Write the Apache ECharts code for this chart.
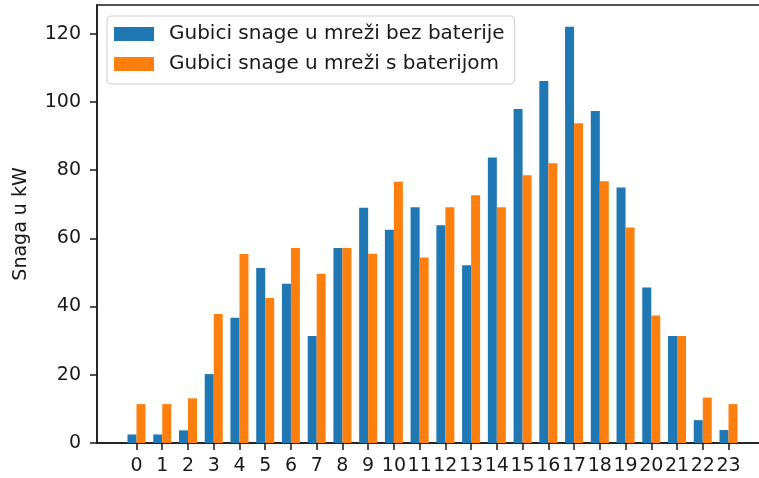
<!DOCTYPE html>
<html>
<head>
<meta charset="utf-8">
<script src="https://cdn.jsdelivr.net/npm/echarts@6/dist/echarts.min.js"></script>
<style>
  html, body { margin: 0; padding: 0; background: #fff; }
  #main { width: 759px; height: 478px; }
</style>
</head>
<body>
<div id="main"></div>
<script>
// sati u danu
const hours = [0, 1, 2, 3, 4, 5, 6, 7, 8, 9, 10, 11, 12, 13, 14, 15, 16, 17, 18, 19, 20, 21, 22, 23];
// gubici bez baterije (kW)
const lossNoBattery = [2.5, 2.5, 3.7, 20.2, 36.7, 51.3, 46.7, 31.4, 57.2, 69.0, 62.5, 69.1,
  63.8, 52.1, 83.7, 97.9, 106.1, 122.0, 97.3, 74.9, 45.6, 31.4, 6.7, 3.8];
// gubici s baterijom (kW)
const lossWithBattery = [11.4, 11.4, 13.1, 37.8, 55.4, 42.5, 57.2, 49.6, 57.2, 55.5, 76.6, 54.4,
  69.1, 72.6, 69.1, 78.5, 82.0, 93.7, 76.7, 63.2, 37.4, 31.4, 13.3, 11.4];
const yTicks = [0, 20, 40, 60, 80, 100, 120];

const seriesNames = ['Gubici snage u mreži bez baterije', 'Gubici snage u mreži s baterijom'];
const font = 'DejaVu Sans';
const ink = '#1a1a1a';

const myChart = echarts.init(document.getElementById('main'));

const option = {
  animation: false,
  textStyle: { fontFamily: font },
  grid: {
    left: 97, top: 5, width: 671, bottom: 35,
    outerBoundsMode: 'none', // v6 inace smanji grid
    containLabel: false,
    show: true, borderColor: ink, borderWidth: 1.5, backgroundColor: 'transparent'
  },
  legend: {
    data: seriesNames,
    orient: 'vertical',
    left: 107, top: 16,
    padding: [8, 10, 10, 7],
    itemWidth: 40, itemHeight: 14, itemGap: 10,
    icon: 'rect',
    backgroundColor: 'rgba(255,255,255,0.8)',
    borderColor: '#d0d0d0', borderWidth: 1, borderRadius: 4,
    textStyle: { fontFamily: font, fontSize: 20, color: ink, lineHeight: 20, padding: [0, 0, 0, 10] }
  },
  xAxis: {
    type: 'value',
    min: -1.535, max: 24.535,
    splitLine: { show: false },
    axisLine: { lineStyle: { color: ink, width: 1.5 } },
    axisTick: { customValues: hours, length: 7, lineStyle: { color: ink, width: 1.5 } },
    axisLabel: { customValues: hours, fontSize: 19, color: ink, margin: 14, fontFamily: font }
  },
  yAxis: {
    type: 'value',
    min: 0, max: 128.4, interval: 20,
    name: 'Snaga u kW',
    nameLocation: 'middle',
    nameGap: 66,
    nameTextStyle: { fontSize: 19, color: ink, fontFamily: font },
    splitLine: { show: false },
    axisLine: { show: true, onZero: false, lineStyle: { color: ink, width: 1.5 } },
    axisTick: { show: true, customValues: yTicks, length: 7, lineStyle: { color: ink, width: 1.5 } },
    axisLabel: { customValues: yTicks, fontSize: 19, color: ink, margin: 16, fontFamily: font }
  },
  series: [
    {
      name: seriesNames[0],
      type: 'bar',
      barWidth: 9,
      barGap: '0%',
      itemStyle: { color: '#1f77b4' },
      data: hours.map((h, i) => [h, lossNoBattery[i]])
    },
    {
      name: seriesNames[1],
      type: 'bar',
      barWidth: 9,
      barGap: '0%',
      itemStyle: { color: '#ff7f0e' },
      data: hours.map((h, i) => [h, lossWithBattery[i]])
    }
  ]
};

myChart.setOption(option);
</script>
</body>
</html>
